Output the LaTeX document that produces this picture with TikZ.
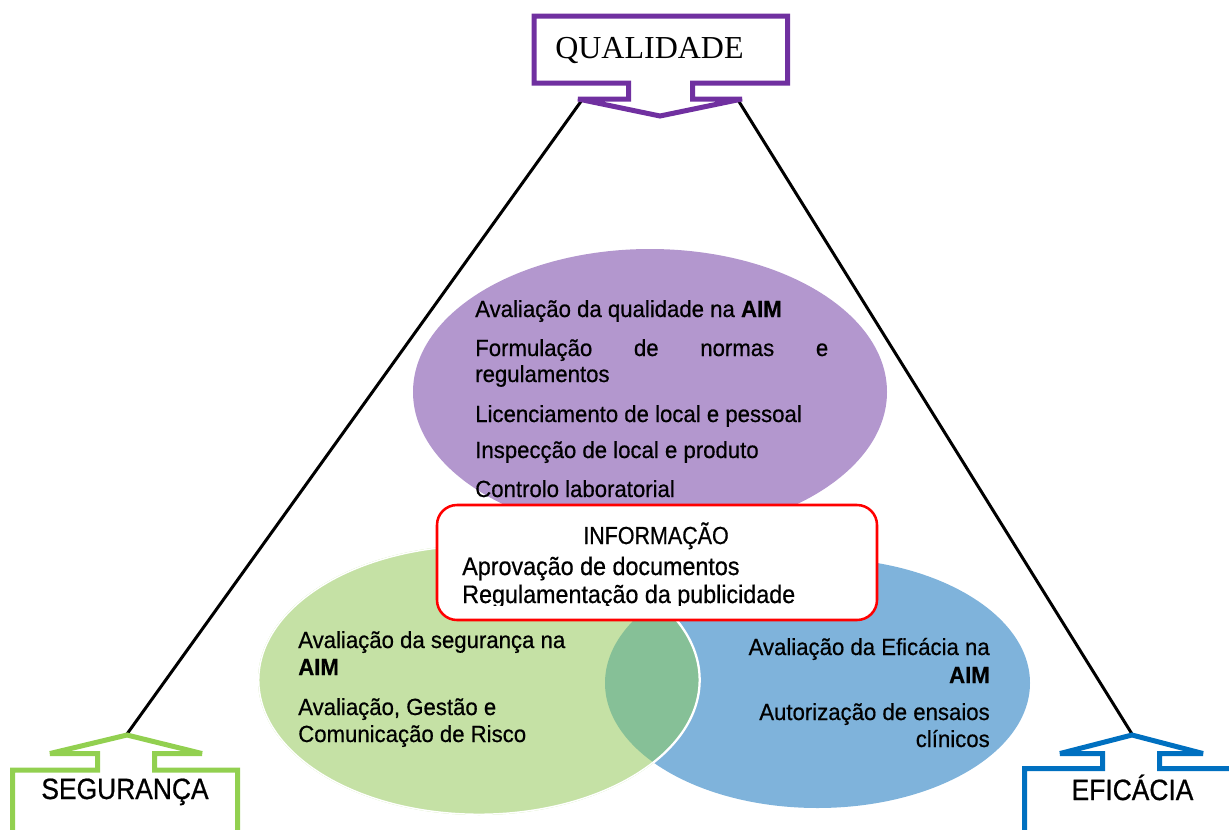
\documentclass[tikz,border=0pt]{standalone}
\usepackage{fontspec}
\setmainfont{Liberation Serif}
\newfontfamily\ellfont[FakeStretch=0.95,FakeBold=0.6]{Liberation Sans}
\newfontfamily\infofont[FakeStretch=0.92,FakeBold=0.6]{Liberation Sans}
\newfontfamily\headfont[FakeStretch=0.87,FakeBold=0.6]{Liberation Sans}
\newfontfamily\labfont[FakeStretch=0.9,FakeBold=0.7]{Liberation Sans}
\definecolor{qualc}{HTML}{7030A0}
\definecolor{segc}{HTML}{92D050}
\definecolor{efic}{HTML}{0070C0}
\definecolor{purplefill}{HTML}{B397CE}
\definecolor{greenfill}{HTML}{C5E1A5}
\definecolor{bluefill}{HTML}{7FB3DB}
\definecolor{lensfill}{HTML}{86C097}
\definecolor{infored}{HTML}{FF0000}
\begin{document}
\begin{tikzpicture}[x=0.75pt,y=-0.75pt,
  conn/.style={draw=black, line width=2.25pt},
  callout/.style={line width=3.75pt, line join=miter, miter limit=2, fill=white},
  elltext/.style={anchor=base west, inner sep=0pt, font=\ellfont\fontsize{17.5}{20}\selectfont},
  elltextr/.style={anchor=base east, inner sep=0pt, font=\ellfont\fontsize{17.5}{20}\selectfont},
  infotext/.style={anchor=base west, inner sep=0pt, font=\infofont\fontsize{19}{22}\selectfont},
  labtext/.style={anchor=base, inner sep=0pt, font=\labfont\fontsize{22}{26}\selectfont}]
\useasboundingbox (0,0) rectangle (1229,829);

% connector end points
\coordinate (qL) at (582,100);
\coordinate (qR) at (738,100);
\coordinate (sTip) at (127,734);
\coordinate (eTip) at (1132,734);
\draw[conn] (qL) -- (sTip);
\draw[conn] (qR) -- (eTip);

% ellipses
\fill[purplefill] (650,392) ellipse [x radius=237, y radius=143];
\fill[bluefill] (817.5,683) ellipse [x radius=212.5, y radius=125];
\fill[greenfill] (479,680) ellipse [x radius=221, y radius=135];
\begin{scope}
  \clip (479,680) ellipse [x radius=221, y radius=135];
  \fill[lensfill] (817.5,683) ellipse [x radius=212.5, y radius=125];
  \draw[white, line width=2.2pt] (479,680) ellipse [x radius=221, y radius=135];
\end{scope}
\begin{scope}
  \clip (817.5,683) ellipse [x radius=212.5, y radius=125];
  \draw[white, line width=1.2pt] (479,680) ellipse [x radius=221, y radius=135];
\end{scope}

% quality texts
\node[elltext] (q1) at (475,317) {Avaliação da qualidade na \textbf{AIM}};
\node[elltext] (q2) at (475,356) {\makebox[264.75pt][s]{Formulação de normas e}};
\node[elltext] (q3) at (475,382) {regulamentos};
\node[elltext] (q4) at (475,422) {Licenciamento de local e pessoal};
\node[elltext] (q5) at (475,458) {Inspecção de local e produto};
\node[elltext] (q6) at (475,497) {Controlo laboratorial};

% safety texts
\node[elltext] (s1) at (298,648) {Avaliação da segurança na};
\node[elltext] (s2) at (298,675) {\textbf{AIM}};
\node[elltext] (s3) at (298,715) {Avaliação, Gestão e};
\node[elltext] (s4) at (298,742) {Comunicação de Risco};

% efficacy texts
\node[elltextr] (e1) at (990,655) {Avaliação da Eficácia na};
\node[elltextr] (e2) at (990,683) {\textbf{AIM}};
\node[elltextr] (e3) at (990,720) {Autorização de ensaios};
\node[elltextr] (e4) at (990,747) {clínicos};

% information box
\draw[infored, line width=1.9pt, fill=white, rounded corners=15] (437,505) rectangle (877,620);
\node[anchor=base, inner sep=0pt, font=\headfont\fontsize{18.5}{22}\selectfont] (i0) at (656,544) {INFORMAÇÃO};
\node[infotext] (i1) at (462,575) {Aprovação de documentos};
\begin{scope}
  \clip (440,580) rectangle (875,605.5);
  \node[infotext] (i2) at (462,603) {Regulamentação da publicidade};
\end{scope}

% QUALIDADE callout
\draw[callout, draw=qualc] (534,16) -- (787.5,16) -- (787.5,83) -- (692.5,83) -- (692.5,99)
  -- (742,99) -- (660,116) -- (578,99) -- (628.5,99) -- (628.5,83) -- (534,83) -- cycle;
\node[anchor=base west, inner sep=0pt, font=\fontsize{24}{28}\selectfont] (qual) at (555,58) {QUALIDADE};

% SEGURANCA callout
\draw[callout, draw=segc] (12.5,845) -- (12.5,770) -- (97.5,770) -- (97.5,753.5) -- (50,753.5)
  -- (127,735) -- (202,753.5) -- (154.5,753.5) -- (154.5,770) -- (237.5,770) -- (237.5,845);
\node[labtext] (seg) at (125,799) {SEGURANÇA};

% EFICACIA callout
\draw[callout, draw=efic] (1024.5,845) -- (1024.5,768.5) -- (1102.5,768.5) -- (1102.5,753.5) -- (1060,753.5)
  -- (1132,735) -- (1203,753.5) -- (1159.5,753.5) -- (1159.5,768.5) -- (1240,768.5) -- (1240,845);
\node[labtext] (efi) at (1132.5,800) {EFICÁCIA};
\end{tikzpicture}
\end{document}
